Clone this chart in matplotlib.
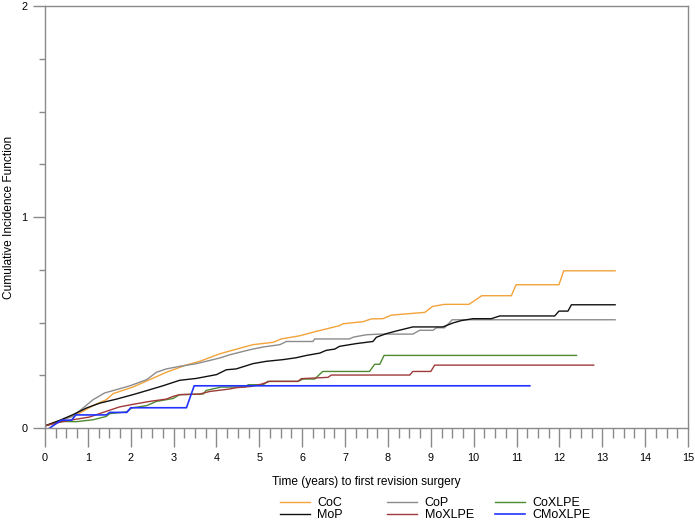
import matplotlib
matplotlib.use("Agg")
import matplotlib.pyplot as plt
from matplotlib.ticker import MultipleLocator

plt.rcParams["font.family"] = ["Liberation Sans", "DejaVu Sans"]

# ---- data (years, cumulative incidence) ----
coc_t = [0, 0.58, 0.81, 1.12, 1.43, 1.59, 2.05, 2.44, 2.83, 3.3, 3.61, 4.08, 4.85, 5.32, 5.51,
         5.94, 6.33, 6.87, 6.95, 7.42, 7.61, 7.88, 8.08, 8.86, 9.04, 9.32, 9.89, 10.19, 10.88,
         10.99, 11.99, 12.1, 13.3]
coc_v = [0.01, 0.052, 0.071, 0.106, 0.134, 0.163, 0.194, 0.229, 0.264, 0.299, 0.316, 0.352, 0.395,
         0.406, 0.422, 0.437, 0.458, 0.485, 0.494, 0.504, 0.517, 0.518, 0.535, 0.548, 0.576, 0.586,
         0.586, 0.627, 0.627, 0.679, 0.679, 0.745, 0.745]

cop_t = [0, 0.65, 0.89, 1.12, 1.39, 1.67, 1.98, 2.37, 2.6, 2.83, 3.14, 3.53, 3.84, 4.08, 4.31,
         4.78, 5.09, 5.48, 5.63, 6.25, 6.29, 7.1, 7.2, 7.5, 7.81, 8.58, 8.74, 9.05, 9.13, 9.32,
         9.5, 13.3]
cop_v = [0.01, 0.055, 0.095, 0.134, 0.166, 0.182, 0.2, 0.229, 0.264, 0.28, 0.292, 0.305, 0.32,
         0.332, 0.347, 0.371, 0.384, 0.395, 0.41, 0.41, 0.422, 0.422, 0.431, 0.442, 0.445, 0.445,
         0.463, 0.463, 0.475, 0.475, 0.513, 0.513]

cox_t = [0, 0.34, 0.73, 1.12, 1.43, 1.51, 1.9, 2.02, 2.37, 2.6, 2.99, 3.14, 3.69, 3.76, 4.11,
         4.66, 4.74, 5.09, 5.2, 5.9, 6.02, 6.29, 6.48, 7.57, 7.69, 7.81, 7.91, 12.4]
cox_v = [0.01, 0.031, 0.03, 0.039, 0.055, 0.068, 0.076, 0.095, 0.106, 0.126, 0.14, 0.158, 0.161,
         0.178, 0.194, 0.194, 0.205, 0.205, 0.221, 0.221, 0.232, 0.232, 0.268, 0.268, 0.302,
         0.302, 0.344, 0.344]

mop_t = [0, 0.34, 0.65, 0.97, 1.28, 1.67, 2.05, 2.37, 2.75, 3.14, 3.53, 4.0, 4.23, 4.46, 4.85,
         5.16, 5.55, 5.86, 6.1, 6.41, 6.56, 6.76, 6.87, 7.26, 7.65, 7.73, 7.96, 8.2, 8.58, 9.28,
         9.52, 9.71, 9.98, 10.41, 10.61, 11.89, 11.99, 12.2, 12.28, 13.3]
mop_v = [0.01, 0.036, 0.063, 0.095, 0.118, 0.137, 0.158, 0.177, 0.2, 0.226, 0.235, 0.253, 0.276,
         0.28, 0.305, 0.316, 0.324, 0.333, 0.344, 0.355, 0.368, 0.374, 0.387, 0.4, 0.41, 0.43,
         0.447, 0.46, 0.479, 0.479, 0.498, 0.509, 0.518, 0.518, 0.531, 0.531, 0.554, 0.554,
         0.584, 0.584]

mox_t = [0, 0.34, 0.65, 1.04, 1.43, 1.74, 2.05, 2.44, 2.83, 2.99, 3.14, 3.61, 3.84, 4.31, 4.46,
         4.81, 5.05, 5.24, 5.9, 5.98, 6.6, 6.68, 8.51, 8.58, 9.0, 9.09, 12.8]
mox_v = [0.01, 0.027, 0.039, 0.052, 0.079, 0.1, 0.112, 0.126, 0.137, 0.15, 0.158, 0.161, 0.173,
         0.185, 0.191, 0.197, 0.208, 0.221, 0.221, 0.234, 0.24, 0.251, 0.251, 0.268, 0.268,
         0.298, 0.298]

cmo_t = [0.11, 0.38, 0.62, 0.72, 1.43, 1.51, 1.91, 2.0, 3.3, 3.48, 11.31]
cmo_v = [0.0, 0.037, 0.037, 0.062, 0.062, 0.074, 0.074, 0.096, 0.096, 0.2, 0.2]

AXC = "#8a8a8a"

fig = plt.figure(figsize=(6.95, 5.21), dpi=100)
ax = fig.add_axes([45/695, 93/521, 643/695, 422/521])

l_coc, = ax.plot(coc_t, coc_v, color="#f2a33a", lw=1.0, label="CoC")
l_cop, = ax.plot(cop_t, cop_v, color="#8c8c8c", lw=1.0, label="CoP")
l_cox, = ax.plot(cox_t, cox_v, color="#4f8a32", lw=1.0, label="CoXLPE")
l_mop, = ax.plot(mop_t, mop_v, color="#111111", lw=1.0, label="MoP")
l_mox, = ax.plot(mox_t, mox_v, color="#a03a3a", lw=1.0, label="MoXLPE")
l_cmo, = ax.plot(cmo_t, cmo_v, color="#2233ff", lw=1.2, label="CMoXLPE")

ax.set_xlim(0, 15); ax.set_ylim(0, 2)
ax.xaxis.set_major_locator(MultipleLocator(1)); ax.xaxis.set_minor_locator(MultipleLocator(0.25))
ax.yaxis.set_major_locator(MultipleLocator(1)); ax.yaxis.set_minor_locator(MultipleLocator(0.25))
for s in ax.spines.values():
    s.set_color(AXC); s.set_linewidth(1.0)
ax.tick_params(axis="x", which="major", length=13.5, width=1, color=AXC, labelsize=7.8, pad=4.5)
ax.tick_params(axis="x", which="minor", length=7, width=1, color=AXC)
ax.tick_params(axis="y", which="major", length=8.5, width=1, color=AXC, labelsize=7.8, pad=4)
ax.tick_params(axis="y", which="minor", length=4, width=1, color=AXC)

ax.set_xlabel("Time (years) to first revision surgery", fontsize=8.6, labelpad=9)
ax.set_ylabel("Cumulative Incidence Function", fontsize=8.6, labelpad=5)

# legend: three equal-width columns like the reference
cols = [((l_coc, l_mop), 280), ((l_cop, l_mox), 387), ((l_cox, l_cmo), 495)]
for hs, x0 in cols:
    fig.legend(hs, [h.get_label() for h in hs], ncol=1, frameon=False, fontsize=9,
               loc="center left", bbox_to_anchor=(x0/695, 1-509/521),
               handlelength=2.4, handletextpad=0.6, labelspacing=0.02,
               borderpad=0, borderaxespad=0)

fig.savefig("out.png", dpi=100)
